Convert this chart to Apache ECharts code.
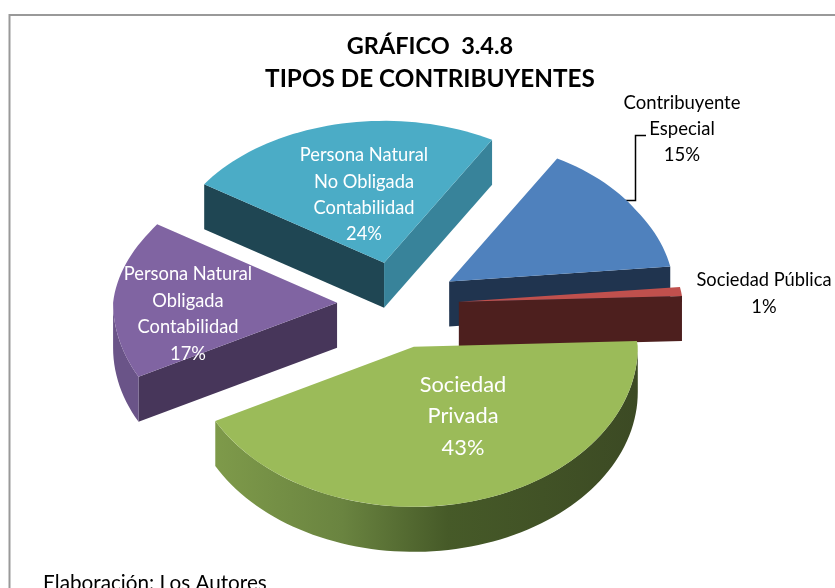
<!DOCTYPE html>
<html>
<head>
<meta charset="utf-8">
<title>Tipos de contribuyentes</title>
<style>
  html, body { margin: 0; padding: 0; background: #fff; }
  #chart { width: 835px; height: 588px; }
</style>
<script src="https://cdn.jsdelivr.net/npm/echarts@6/dist/echarts.min.js"></script>
</head>
<body>
<div id="chart"></div>
<script>
// data, clockwise from the first slice
const categories = ["Contribuyente\nEspecial", "Sociedad Pública", "Sociedad\nPrivada", "Persona Natural\nObligada\nContabilidad", "Persona Natural\nNo Obligada\nContabilidad"];
const shares = [15, 1, 43, 17, 24];

// colours per slice: top, cut face, second cut face, rim
const topColors = ["#4f81bd", "#c0504d", "#9bbb59", "#8064a2", "#4bacc6"];
const cutColors = ["#20344f", "#4d1f1e", "#3d4a22", "#47365a", "#1f4653"];
const cutEndColors = ["#20344f", "#4d1f1e", "#3d4a22", "#47365a", "#38839a"];
const rimColors = ["#20344f", "#4d1f1e", null, "#6a5488", "#1f4653"];

// label layout per slice
const labelSpots = [[682, 129], [764, 294], [463, 416], [188, 314], [364, 195]];
const labelFills = ["#000", "#000", "#fff", "#fff", "#fff"];
const labelSizes = [18.5, 18.3, 21.8, 18.3, 18.3];
const labelHeights = [26, 27, 31.5, 26.6, 26.4];

// pie geometry
const cx = 398, cy = 305, radiusX = 224, radiusFront = 160, radiusBack = 142;
const explode = 61, depth = 45, startDeg = 30;

const total = shares.reduce((a, b) => a + b, 0);

function toPoint(ox, oy, deg, dz) {
  const t = deg * Math.PI / 180;
  const c = Math.cos(t);
  // the far side of the pie is a little narrower
  const rx = c > 0 ? radiusX - 8 * Math.min(1, c * 2) : radiusX;
  return [ox + rx * Math.sin(t), oy - (c > 0 ? radiusBack : radiusFront) * c + (dz || 0)];
}

function arcPoints(ox, oy, from, to, dz) {
  const pts = [];
  const n = Math.max(2, Math.ceil((to - from) / 2));
  for (let i = 0; i <= n; i++) {
    pts.push(toPoint(ox, oy, from + (to - from) * i / n, dz));
  }
  return pts;
}

function face(points, fill, z2) {
  return { type: "polygon", z2: z2, shape: { points: points }, style: { fill: fill } };
}

function renderSlice(params, api) {
  const i = params.dataIndex;
  let before = 0;
  for (let k = 0; k < i; k++) before += shares[k];
  const from = startDeg + before / total * 360;
  const to = from + api.value(0) / total * 360;
  const mid = (from + to) / 2 * Math.PI / 180;
  const ox = cx + explode * Math.sin(mid);
  const oy = cy - explode * 0.71 * Math.cos(mid);
  const order = Math.round(-Math.cos(mid) * 100) * 10;
  const children = [];
  const isFront = d => Math.cos(d * Math.PI / 180) < 0;

  const pa = toPoint(ox, oy, from), pb = toPoint(ox, oy, to);
  if (isFront(from - 90)) {
    children.push(face([[ox, oy], pa, [pa[0], pa[1] + depth], [ox, oy + depth]], cutColors[i], order));
  }
  if (isFront(to + 90)) {
    children.push(face([[ox, oy], pb, [pb[0], pb[1] + depth], [ox, oy + depth]], cutEndColors[i], order));
  }
  const rimFrom = Math.max(from, 90), rimTo = Math.min(to, 270);
  if (rimTo > rimFrom) {
    const top = arcPoints(ox, oy, rimFrom, rimTo, 0);
    const bottom = arcPoints(ox, oy, rimFrom, rimTo, depth).reverse();
    const fill = rimColors[i] || new echarts.graphic.LinearGradient(1, 0, 0, 0, [
      { offset: 0, color: "#3c4a24" },
      { offset: 0.45, color: "#465a28" },
      { offset: 0.7, color: "#6a8440" },
      { offset: 1, color: "#7e9a4a" }
    ]);
    children.push(face(top.concat(bottom), fill, order));
  }
  children.push(face([[ox, oy]].concat(arcPoints(ox, oy, from, to, 0)), topColors[i], order + 1));

  children.push({
    type: "text",
    z2: 5000,
    style: {
      text: categories[i] + "\n" + api.value(0) + "%",
      x: labelSpots[i][0],
      y: labelSpots[i][1],
      align: "center",
      verticalAlign: "middle",
      fill: labelFills[i],
      fontFamily: "Lato",
      fontSize: labelSizes[i],
      lineHeight: labelHeights[i]
    }
  });
  return { type: "group", children: children };
}

const chart = echarts.init(document.getElementById("chart"));
chart.setOption({
  animation: false,
  backgroundColor: "#fff",
  title: {
    left: 430,
    top: 30,
    padding: 0,
    textAlign: "center",
    text: "{a|GRÁFICO  3.4.8}\n{b|TIPOS DE CONTRIBUYENTES}",
    textStyle: {
      rich: {
        a: { fontFamily: "Lato", fontWeight: "bold", fontSize: 23.5, lineHeight: 33, color: "#000" },
        b: { fontFamily: "Lato", fontWeight: "bold", fontSize: 24.3, lineHeight: 33, color: "#000" }
      }
    }
  },
  graphic: [
    {
      type: "polyline",
      shape: { points: [[9.5, 588], [9.5, 15], [835, 15]] },
      style: { fill: null, stroke: "#999", lineWidth: 2 }
    },
    {
      type: "polyline",
      shape: { points: [[625, 200.5], [635.5, 200.5], [635.5, 135.5], [646, 135.5]] },
      style: { fill: null, stroke: "#000", lineWidth: 1.5 }
    },
    {
      type: "text",
      left: 43,
      top: 573,
      style: { text: "Elaboración: Los Autores", fontFamily: "Lato", fontSize: 20.7, fill: "#000" }
    }
  ],
  series: [{
    type: "custom",
    coordinateSystem: "none",
    renderItem: renderSlice,
    data: shares.map(v => [v])
  }]
});
</script>
</body>
</html>
